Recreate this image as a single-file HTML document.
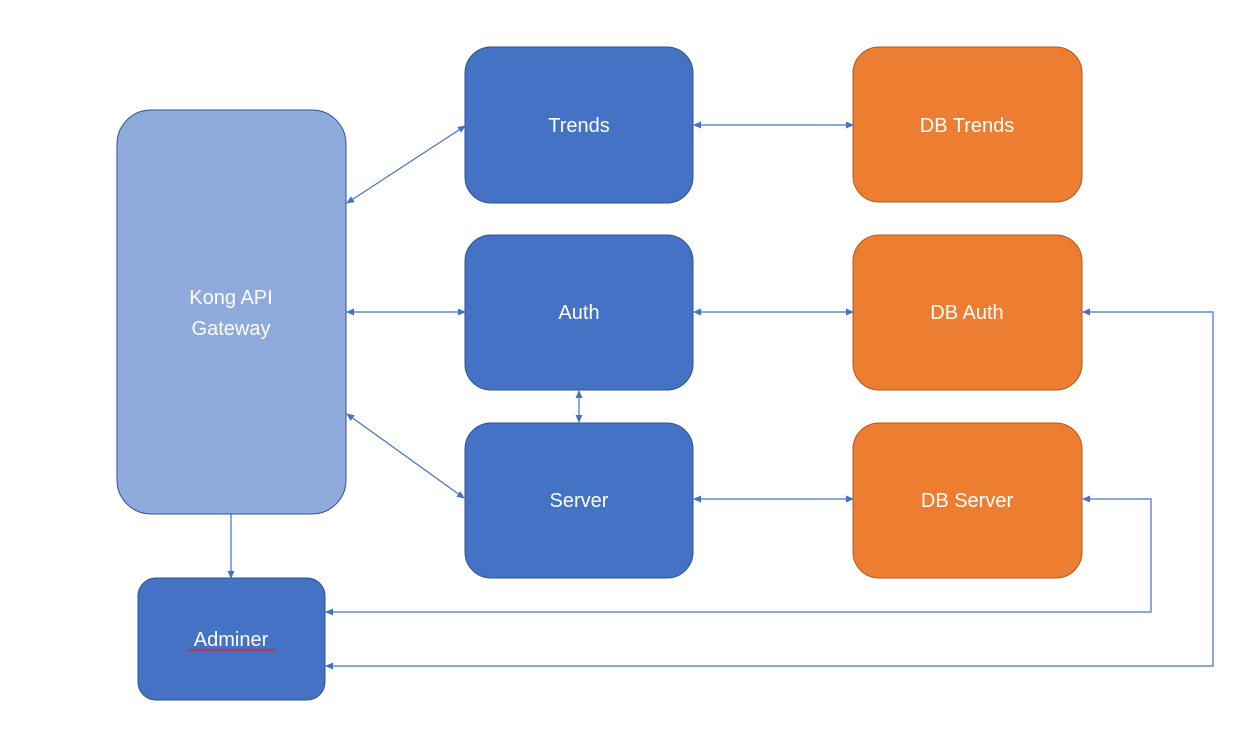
<!DOCTYPE html>
<html><head><meta charset="utf-8"><style>
html,body{margin:0;padding:0;background:#fff;}
svg{display:block;}
text{font-family:"Liberation Sans",sans-serif;font-size:20px;fill:#fff;text-anchor:middle;}
</style></head><body>
<svg width="1258" height="740" viewBox="0 0 1258 740" xmlns="http://www.w3.org/2000/svg">
<defs>
<marker id="a" markerWidth="8" markerHeight="8" refX="7" refY="4" orient="auto-start-reverse" markerUnits="userSpaceOnUse">
<path d="M0,0.5 L8,4 L0,7.5 z" fill="#4472c4"/>
</marker>
</defs>
<g stroke="#2f528f" stroke-width="1">
<rect x="117" y="110" width="229" height="404" rx="34" fill="#8faadc"/>
<rect x="465" y="47" width="228" height="156" rx="26" fill="#4472c4"/>
<rect x="465" y="235" width="228" height="155" rx="26" fill="#4472c4"/>
<rect x="465" y="423" width="228" height="155" rx="26" fill="#4472c4"/>
<rect x="853" y="47" width="229" height="155" rx="26" fill="#ed7d31" stroke="#ae5a21"/>
<rect x="853" y="235" width="229" height="155" rx="26" fill="#ed7d31" stroke="#ae5a21"/>
<rect x="853" y="423" width="229" height="155" rx="26" fill="#ed7d31" stroke="#ae5a21"/>
<rect x="138" y="578" width="187" height="122" rx="18" fill="#4472c4"/>
</g>
<g stroke="#4472c4" stroke-width="1.2" fill="none">
<line x1="347" y1="203" x2="465" y2="126" marker-start="url(#a)" marker-end="url(#a)"/>
<line x1="347" y1="312" x2="465" y2="312" marker-start="url(#a)" marker-end="url(#a)"/>
<line x1="347" y1="414" x2="464" y2="498" marker-start="url(#a)" marker-end="url(#a)"/>
<line x1="694" y1="125" x2="853" y2="125" marker-start="url(#a)" marker-end="url(#a)"/>
<line x1="694" y1="312" x2="853" y2="312" marker-start="url(#a)" marker-end="url(#a)"/>
<line x1="694" y1="499" x2="853" y2="499" marker-start="url(#a)" marker-end="url(#a)"/>
<line x1="579" y1="391" x2="579" y2="422" marker-start="url(#a)" marker-end="url(#a)"/>
<line x1="231" y1="514" x2="231" y2="578" marker-end="url(#a)"/>
<polyline points="1083,312 1213,312 1213,666 326,666" marker-start="url(#a)" marker-end="url(#a)"/>
<polyline points="1083,499 1151,499 1151,612 326,612" marker-start="url(#a)" marker-end="url(#a)"/>
</g>
<text x="231" y="304">Kong API</text>
<text x="231" y="335">Gateway</text>
<text x="579" y="132">Trends</text>
<text x="579" y="319">Auth</text>
<text x="579" y="507">Server</text>
<text x="967" y="132">DB Trends</text>
<text x="967" y="319">DB Auth</text>
<text x="967" y="507">DB Server</text>
<text x="231" y="646">Adminer</text>
<path d="M187,651 l2,-2 l2,2 l2,-2 l2,2 l2,-2 l2,2 l2,-2 l2,2 l2,-2 l2,2 l2,-2 l2,2 l2,-2 l2,2 l2,-2 l2,2 l2,-2 l2,2 l2,-2 l2,2 l2,-2 l2,2 l2,-2 l2,2 l2,-2 l2,2 l2,-2 l2,2 l2,-2 l2,2 l2,-2 l2,2 l2,-2 l2,2 l2,-2 l2,2 l2,-2 l2,2 l2,-2 l2,2 l2,-2 l2,2 l2,-2 l2,2" stroke="#e02020" stroke-width="1" fill="none"/>
</svg>
</body></html>
